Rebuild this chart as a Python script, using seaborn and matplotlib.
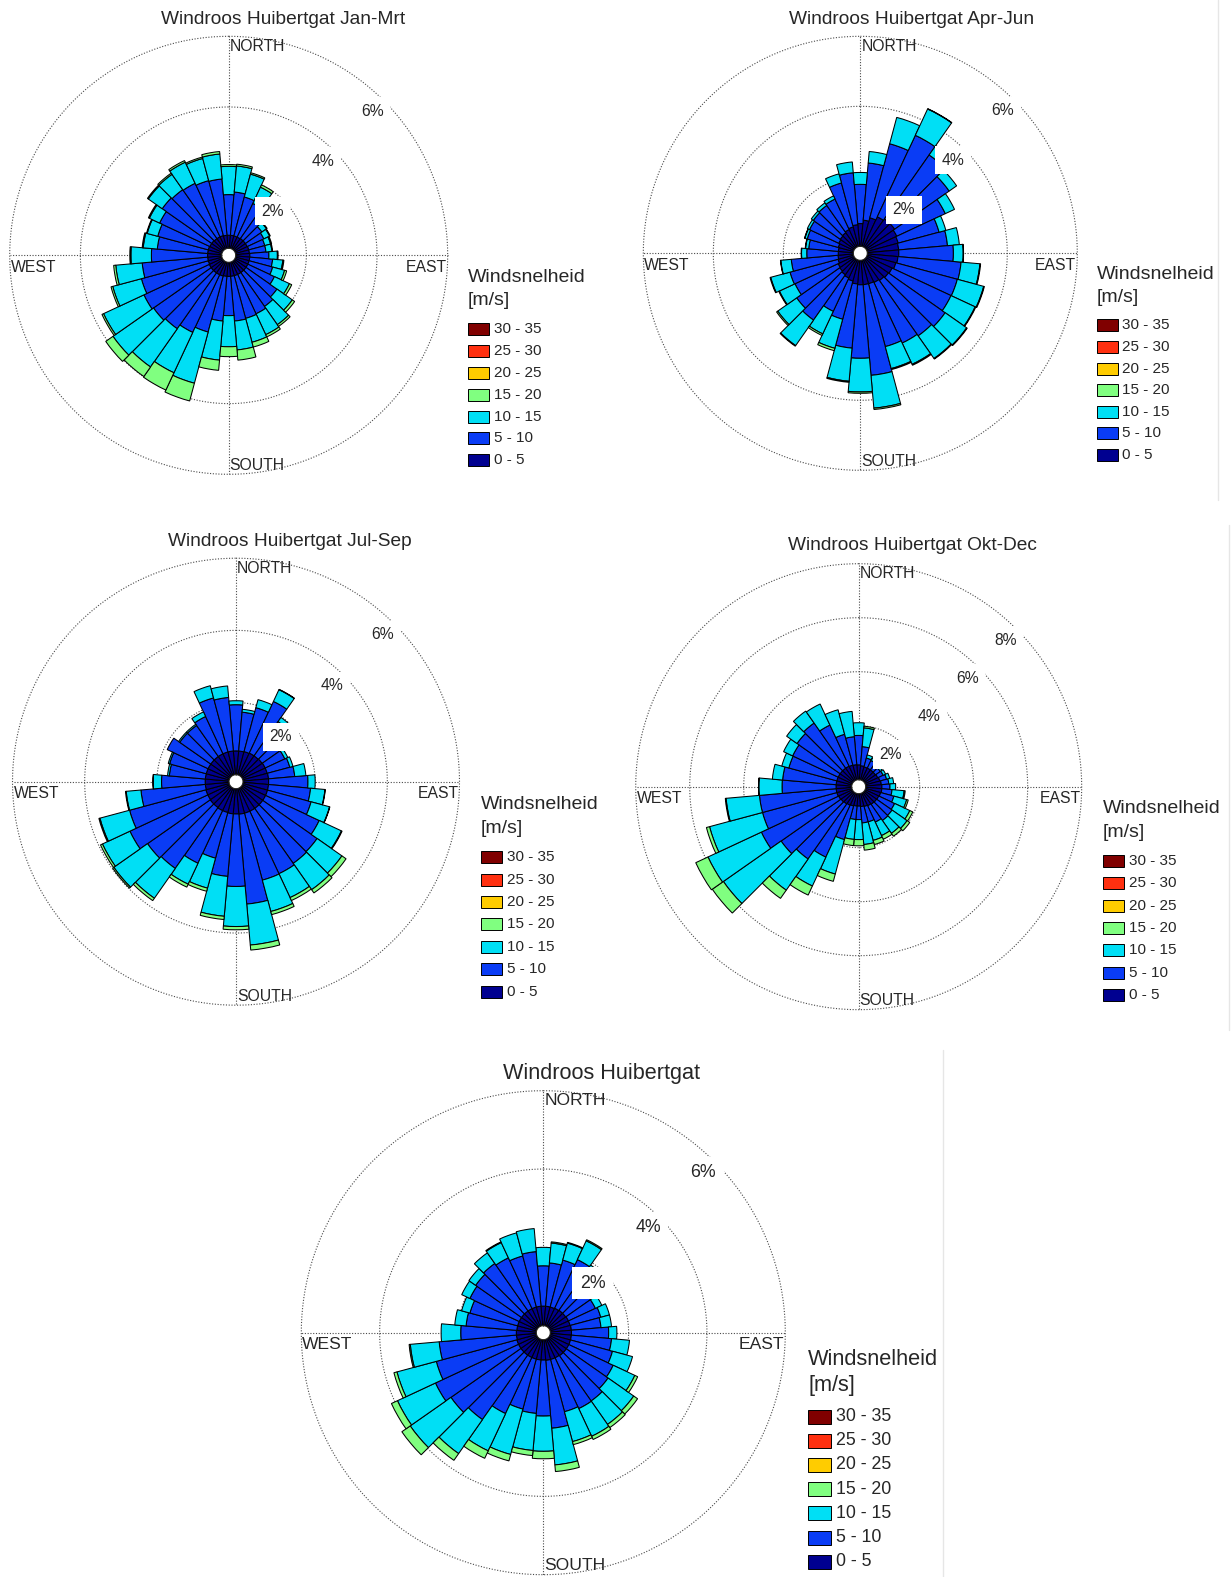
import numpy as np
import matplotlib
matplotlib.use("Agg")
import matplotlib.pyplot as plt
from matplotlib.patches import Rectangle
from matplotlib.lines import Line2D
import seaborn as sns

sns.set_style("white")
plt.rcParams["font.family"] = ["Liberation Sans", "DejaVu Sans"]

W, H, DPI = 1231, 1577, 100

# Wind direction sectors (degrees, clockwise from north), 10 degree bins
directions = np.arange(0, 360, 10)

speed_classes = ["0 - 5", "5 - 10", "10 - 15", "15 - 20", "20 - 25", "25 - 30", "30 - 35"]
class_colors = sns.color_palette(["#000090", "#0A3CF5", "#00DFF5", "#80FF80",
                                  "#FFCC00", "#FF3010", "#800000"])

# Cumulative frequency (%) of wind speeds below 5, 10, 15 and 20 m/s per sector
jan_mrt_upto5 = [0.37, 0.37, 0.37, 0.37, 0.38, 0.38, 0.38, 0.39, 0.39, 0.40, 0.40, 0.40,
                 0.40, 0.40, 0.40, 0.40, 0.40, 0.40, 0.40, 0.40, 0.41, 0.41, 0.41, 0.41,
                 0.41, 0.40, 0.40, 0.40, 0.40, 0.40, 0.39, 0.39, 0.38, 0.38, 0.38, 0.37]
jan_mrt_upto10 = [1.52, 1.60, 1.51, 1.42, 1.20, 0.95, 0.90, 0.86, 0.86, 0.94, 1.05, 1.09,
                  1.23, 1.47, 1.57, 1.63, 1.65, 1.67, 1.51, 1.67, 2.05, 2.21, 2.34, 2.40,
                  2.45, 2.36, 2.26, 1.99, 1.83, 1.88, 1.96, 2.10, 2.07, 2.05, 1.99, 1.97]
jan_mrt_upto15 = [2.32, 2.34, 2.18, 1.93, 1.55, 1.11, 1.08, 1.03, 1.03, 1.18, 1.34, 1.44,
                  1.70, 2.00, 2.20, 2.28, 2.35, 2.49, 2.39, 2.78, 3.55, 3.47, 3.66, 3.80,
                  3.71, 3.20, 3.01, 2.57, 2.23, 2.19, 2.28, 2.58, 2.60, 2.71, 2.64, 2.68]
jan_mrt_upto20 = [2.37, 2.39, 2.22, 2.00, 1.58, 1.13, 1.10, 1.06, 1.05, 1.20, 1.37, 1.50,
                  1.77, 2.08, 2.26, 2.35, 2.49, 2.78, 2.67, 3.07, 4.07, 4.01, 3.99, 4.05,
                  3.76, 3.25, 3.07, 2.60, 2.26, 2.21, 2.31, 2.61, 2.64, 2.76, 2.68, 2.75]

apr_jun_upto5 = [0.65, 0.75, 0.85, 0.95, 1.00, 1.00, 0.95, 0.92, 0.90, 0.90, 0.88, 0.85,
                 0.80, 0.78, 0.75, 0.72, 0.70, 0.70, 0.70, 0.68, 0.62, 0.58, 0.55, 0.52,
                 0.50, 0.46, 0.44, 0.43, 0.43, 0.45, 0.48, 0.50, 0.52, 0.55, 0.58, 0.62]
apr_jun_upto10 = [1.77, 2.39, 3.04, 3.52, 3.23, 2.90, 2.48, 2.13, 2.30, 2.46, 2.69, 2.67,
                  2.66, 2.76, 2.68, 2.63, 2.56, 3.30, 2.80, 2.52, 1.75, 1.63, 2.13, 2.02,
                  1.86, 1.88, 1.78, 1.33, 1.28, 1.37, 1.40, 1.44, 1.47, 1.51, 1.88, 2.11]
apr_jun_upto15 = [2.11, 2.72, 3.82, 4.35, 3.56, 3.16, 2.77, 2.33, 2.64, 2.74, 3.23, 3.45,
                  3.42, 3.51, 3.47, 3.30, 3.21, 4.24, 3.76, 3.47, 2.61, 2.34, 3.02, 2.68,
                  2.35, 2.45, 2.08, 1.48, 1.37, 1.44, 1.47, 1.51, 1.56, 1.61, 2.15, 2.42]
apr_jun_upto20 = [2.11, 2.72, 3.82, 4.36, 3.56, 3.16, 2.77, 2.33, 2.64, 2.75, 3.25, 3.47,
                  3.44, 3.53, 3.49, 3.33, 3.24, 4.28, 3.80, 3.50, 2.68, 2.39, 3.04, 2.72,
                  2.37, 2.47, 2.09, 1.49, 1.38, 1.45, 1.47, 1.51, 1.56, 1.61, 2.15, 2.42]

jul_sep_upto5 = [0.66, 0.66, 0.67, 0.68, 0.68, 0.69, 0.70, 0.70, 0.71, 0.71, 0.71, 0.71,
                 0.71, 0.71, 0.71, 0.71, 0.71, 0.71, 0.70, 0.70, 0.69, 0.69, 0.68, 0.68,
                 0.67, 0.67, 0.66, 0.66, 0.66, 0.66, 0.66, 0.66, 0.66, 0.66, 0.66, 0.66]
jul_sep_upto10 = [1.94, 1.74, 1.93, 2.26, 1.84, 1.35, 1.30, 1.35, 1.44, 1.80, 1.88, 1.96,
                  2.35, 2.55, 2.57, 2.62, 2.63, 3.21, 2.71, 2.44, 2.00, 2.30, 2.74, 2.80,
                  3.05, 2.86, 2.45, 1.87, 1.66, 1.71, 1.91, 1.71, 1.71, 1.80, 2.21, 2.15]
jul_sep_upto15 = [2.05, 1.82, 2.16, 2.62, 1.98, 1.48, 1.39, 1.44, 1.75, 2.00, 2.28, 2.49,
                  3.03, 3.39, 3.46, 3.35, 3.53, 4.35, 3.82, 3.55, 2.86, 2.94, 3.75, 3.94,
                  3.89, 3.71, 2.86, 2.10, 1.71, 1.75, 1.91, 1.75, 1.75, 1.94, 2.56, 2.47]
jul_sep_upto20 = [2.05, 1.82, 2.16, 2.63, 1.98, 1.48, 1.39, 1.44, 1.75, 2.00, 2.29, 2.50,
                  3.05, 3.53, 3.57, 3.44, 3.62, 4.49, 3.91, 3.64, 2.95, 3.03, 3.83, 3.98,
                  3.95, 3.74, 2.88, 2.11, 1.71, 1.75, 1.91, 1.75, 1.75, 1.94, 2.56, 2.47]

okt_dec_upto5 = [0.55, 0.52, 0.50, 0.50, 0.50, 0.50, 0.52, 0.55, 0.58, 0.60, 0.60, 0.58,
                 0.56, 0.55, 0.54, 0.52, 0.50, 0.48, 0.46, 0.46, 0.48, 0.50, 0.52, 0.54,
                 0.56, 0.58, 0.58, 0.58, 0.58, 0.58, 0.58, 0.58, 0.58, 0.58, 0.57, 0.56]
okt_dec_upto10 = [1.64, 1.23, 0.84, 0.81, 0.72, 0.72, 0.74, 0.81, 0.86, 0.90, 0.98, 1.09,
                  1.21, 1.25, 1.27, 1.19, 1.09, 1.09, 0.96, 0.96, 1.77, 2.62, 3.01, 3.25,
                  3.72, 3.43, 3.43, 2.58, 2.57, 2.42, 2.44, 2.53, 2.62, 2.26, 1.75, 1.60]
okt_dec_upto15 = [2.11, 1.93, 0.96, 0.90, 0.80, 0.80, 0.84, 0.93, 1.04, 1.11, 1.43, 1.58,
                  1.83, 1.93, 1.85, 1.74, 1.80, 1.89, 1.70, 1.70, 3.09, 3.80, 4.42, 5.86,
                  5.90, 5.46, 4.67, 3.44, 2.95, 2.69, 2.81, 3.00, 3.16, 3.12, 2.69, 2.54]
okt_dec_upto20 = [2.11, 1.99, 0.96, 0.90, 0.80, 0.80, 0.84, 0.93, 1.04, 1.11, 1.47, 1.64,
                  1.95, 2.05, 1.98, 1.89, 1.96, 2.10, 1.93, 1.93, 3.37, 4.17, 4.79, 6.36,
                  6.40, 5.58, 4.70, 3.45, 2.95, 2.69, 2.81, 3.00, 3.16, 3.12, 2.69, 2.54]

year_upto5 = [0.50, 0.50, 0.50, 0.51, 0.52, 0.52, 0.53, 0.53, 0.54, 0.54, 0.54, 0.54,
              0.54, 0.54, 0.54, 0.53, 0.53, 0.53, 0.52, 0.52, 0.52, 0.52, 0.52, 0.52,
              0.52, 0.52, 0.51, 0.51, 0.50, 0.50, 0.50, 0.50, 0.50, 0.50, 0.50, 0.50]
year_upto10 = [1.53, 1.61, 1.74, 1.88, 1.72, 1.38, 1.29, 1.34, 1.30, 1.49, 1.57, 1.65,
               1.79, 1.84, 1.95, 1.96, 1.91, 2.27, 1.95, 1.89, 1.84, 2.10, 2.53, 2.70,
               2.86, 2.65, 2.49, 1.93, 1.80, 1.76, 1.89, 1.93, 1.98, 1.93, 1.85, 1.90]
year_upto15 = [2.00, 2.12, 2.19, 2.41, 1.93, 1.51, 1.47, 1.57, 1.57, 1.70, 2.03, 2.18,
               2.40, 2.64, 2.68, 2.74, 2.70, 3.21, 2.85, 2.84, 3.04, 3.15, 3.59, 3.97,
               3.93, 3.69, 3.23, 2.43, 2.09, 1.98, 2.12, 2.14, 2.31, 2.36, 2.46, 2.49]
year_upto20 = [2.00, 2.15, 2.21, 2.44, 1.93, 1.51, 1.47, 1.57, 1.57, 1.70, 2.03, 2.18,
               2.48, 2.76, 2.78, 2.83, 2.78, 3.38, 3.04, 2.97, 3.21, 3.36, 3.80, 4.23,
               4.10, 3.77, 3.26, 2.43, 2.09, 1.98, 2.12, 2.14, 2.31, 2.38, 2.46, 2.49]

fig = plt.figure(figsize=(W / DPI, H / DPI), dpi=DPI)
fig.patch.set_facecolor("white")

GRID = "#4a4a4a"


def fx(x):
    return x / W


def fy(y):
    return 1 - y / H


def draw_rose(cx, cy, R, rmax, rings, cum, title, title_xy, title_fs,
              compass_fs, ring_fs, legend_xy, legend_fs, header_fs,
              row_gap, swatch):
    ax = fig.add_axes([fx(cx - R), fy(cy + R), 2 * R / W, 2 * R / H],
                      projection="polar")
    ax.set_theta_zero_location("N")
    ax.set_theta_direction(-1)
    hole = 7.0
    ax.set_ylim(0, rmax)
    ax.set_rorigin(-hole * rmax / (R - hole))
    ax.set_xticks([])
    ax.set_yticks([])
    ax.grid(False)
    ax.spines["polar"].set_visible(False)
    ax.set_facecolor("none")

    # dotted range rings and compass axes
    t = np.linspace(0, 2 * np.pi, 721)
    for r in rings:
        ax.plot(t, np.full_like(t, r), color=GRID, lw=0.8, ls=(0, (1, 1.5)),
                zorder=0.5, clip_on=False)
    for a in (0, 90, 180, 270):
        ax.plot([np.radians(a)] * 2, [0, rmax], color=GRID, lw=0.8,
                ls=(0, (1, 1.5)), zorder=0.5, clip_on=False)

    # stacked speed-class bars
    theta = np.radians(directions)
    width = np.radians(10)
    bottom = np.zeros(len(directions))
    for k, top in enumerate(cum):
        top = np.asarray(top, dtype=float)
        h = top - bottom
        m = h > 0.001
        ax.bar(theta[m], h[m], width=width, bottom=bottom[m],
               color=class_colors[k], edgecolor="black", linewidth=0.75,
               zorder=2, align="center")
        bottom = top

    # ring labels along the north-east diagonal
    for r in rings:
        ax.annotate(f"{r}%", xy=(np.radians(45), r), xytext=(-11, -11),
                    textcoords="offset pixels", ha="center", va="center",
                    fontsize=ring_fs, zorder=6, annotation_clip=False,
                    bbox=dict(boxstyle="square,pad=0.42", fc="white", ec="none"))

    # compass words
    fig.text(fx(cx + 1), fy(cy - R + 10), "NORTH", ha="left", va="center",
             fontsize=compass_fs)
    fig.text(fx(cx + 1), fy(cy + R - 9), "SOUTH", ha="left", va="center",
             fontsize=compass_fs)
    fig.text(fx(cx - R + 1), fy(cy + 12), "WEST", ha="left", va="center",
             fontsize=compass_fs)
    fig.text(fx(cx + R - 1), fy(cy + 12), "EAST", ha="right", va="center",
             fontsize=compass_fs)

    fig.text(fx(title_xy[0]), fy(title_xy[1]), title, ha="center", va="center",
             fontsize=title_fs)

    # speed legend
    lx, ly = legend_xy
    fig.text(fx(lx), fy(ly), "Windsnelheid", ha="left", va="center",
             fontsize=header_fs)
    fig.text(fx(lx), fy(ly + row_gap * 1.05), "[m/s]", ha="left", va="center",
             fontsize=header_fs)
    sw, sh = swatch
    y0 = ly + row_gap * 2.35
    for i, k in enumerate(range(len(speed_classes) - 1, -1, -1)):
        yc = y0 + i * row_gap
        fig.add_artist(Rectangle((fx(lx), fy(yc + sh / 2)), sw / W, sh / H,
                                 transform=fig.transFigure, fc=class_colors[k],
                                 ec="black", lw=0.7))
        fig.text(fx(lx + sw + 5), fy(yc), speed_classes[k], ha="left",
                 va="center", fontsize=legend_fs)


draw_rose(228.7, 255.3, 219, 6, [2, 4, 6],
          [jan_mrt_upto5, jan_mrt_upto10, jan_mrt_upto15, jan_mrt_upto20],
          "Windroos Huibertgat Jan-Mrt", (282.6, 19.5), 13.8, 11.3, 11.3,
          (468, 277.5), 11, 14, 21.9, (21, 12))
draw_rose(860.3, 253.3, 217, 6, [2, 4, 6],
          [apr_jun_upto5, apr_jun_upto10, apr_jun_upto15, apr_jun_upto20],
          "Windroos Huibertgat Apr-Jun", (912, 19.5), 13.8, 11.3, 11.3,
          (1096.5, 274.6), 11, 14, 21.6, (21, 12))
draw_rose(236, 781.7, 223.5, 6, [2, 4, 6],
          [jul_sep_upto5, jul_sep_upto10, jul_sep_upto15, jul_sep_upto20],
          "Windroos Huibertgat Jul-Sep", (289.6, 541), 13.8, 11.3, 11.3,
          (480.7, 804.6), 11, 14, 22.4, (21, 12))
draw_rose(858.7, 786.7, 223, 8, [2, 4, 6, 8],
          [okt_dec_upto5, okt_dec_upto10, okt_dec_upto15, okt_dec_upto20],
          "Windroos Huibertgat Okt-Dec", (912, 546), 13.8, 11.3, 11.3,
          (1103, 808.6), 11, 14, 22.3, (21, 12))
draw_rose(543.3, 1332.7, 242, 6, [2, 4, 6],
          [year_upto5, year_upto10, year_upto15, year_upto20],
          "Windroos Huibertgat", (601.4, 1073), 15.6, 12.6, 12.8,
          (808, 1359.7), 12.8, 15.7, 24.2, (23, 14))

# faint panel separators
for (x, y_a, y_b) in [(1218, 0, 500), (1229, 525, 1030), (943, 1050, 1577)]:
    fig.add_artist(Line2D([fx(x), fx(x)], [fy(y_a), fy(y_b)],
                          transform=fig.transFigure, color="#e6e6e6", lw=1))

fig.savefig("out.png", dpi=DPI, facecolor="white")
